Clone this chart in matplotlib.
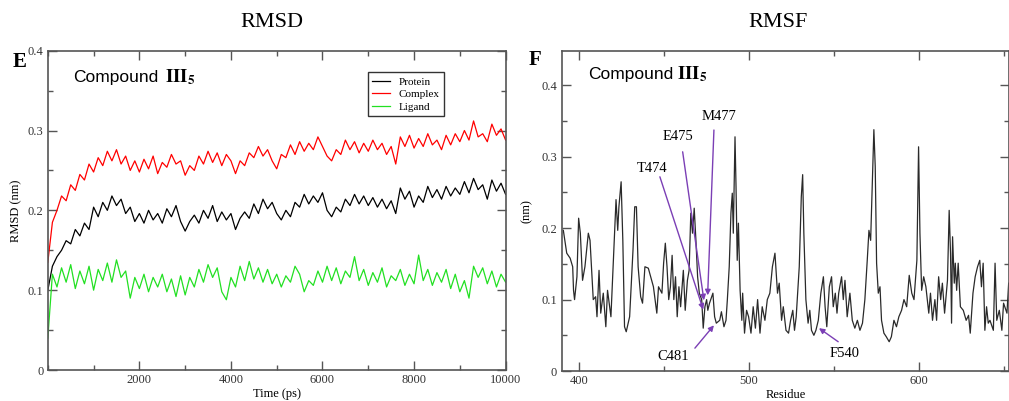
import numpy as np
import matplotlib
matplotlib.use("Agg")
import matplotlib.pyplot as plt
from matplotlib.ticker import MultipleLocator, FixedLocator

plt.rcParams["font.family"] = "Liberation Serif"
plt.rcParams["mathtext.fontset"] = "stix"

# RMSD traces, one value every 100 ps (nm)
time_ps = np.arange(0, 10001, 100)
complex_rmsd = [
    0.135, 0.185, 0.200, 0.218, 0.212, 0.232, 0.225, 0.245, 0.238, 0.258,
    0.248, 0.266, 0.256, 0.274, 0.262, 0.276, 0.258, 0.268, 0.250, 0.262,
    0.248, 0.264, 0.252, 0.268, 0.246, 0.260, 0.254, 0.270, 0.258, 0.262,
    0.244, 0.256, 0.250, 0.268, 0.258, 0.274, 0.260, 0.272, 0.256, 0.270,
    0.262, 0.246, 0.262, 0.256, 0.272, 0.266, 0.280, 0.268, 0.276, 0.262,
    0.252, 0.270, 0.266, 0.282, 0.270, 0.286, 0.274, 0.284, 0.276, 0.292,
    0.280, 0.268, 0.262, 0.276, 0.270, 0.288, 0.276, 0.286, 0.272, 0.284,
    0.274, 0.288, 0.276, 0.284, 0.270, 0.280, 0.258, 0.292, 0.280, 0.294,
    0.278, 0.290, 0.280, 0.296, 0.282, 0.288, 0.276, 0.294, 0.282, 0.296,
    0.286, 0.300, 0.288, 0.312, 0.292, 0.296, 0.286, 0.308, 0.294, 0.302,
    0.288,
]
protein_rmsd = [
    0.100, 0.130, 0.142, 0.150, 0.162, 0.158, 0.176, 0.168, 0.184, 0.176,
    0.204, 0.192, 0.210, 0.200, 0.218, 0.206, 0.214, 0.196, 0.204, 0.186,
    0.196, 0.184, 0.200, 0.188, 0.196, 0.184, 0.202, 0.192, 0.206, 0.186,
    0.174, 0.186, 0.194, 0.184, 0.200, 0.190, 0.206, 0.186, 0.198, 0.188,
    0.196, 0.176, 0.190, 0.198, 0.190, 0.208, 0.196, 0.214, 0.202, 0.210,
    0.196, 0.188, 0.200, 0.192, 0.210, 0.204, 0.220, 0.208, 0.218, 0.210,
    0.222, 0.200, 0.192, 0.204, 0.198, 0.214, 0.206, 0.220, 0.208, 0.218,
    0.206, 0.216, 0.204, 0.214, 0.202, 0.212, 0.196, 0.228, 0.214, 0.224,
    0.204, 0.218, 0.210, 0.230, 0.216, 0.226, 0.214, 0.230, 0.218, 0.228,
    0.220, 0.236, 0.222, 0.240, 0.226, 0.232, 0.214, 0.238, 0.224, 0.234,
    0.220,
]
ligand_rmsd = [
    0.040, 0.120, 0.104, 0.128, 0.110, 0.132, 0.102, 0.124, 0.108, 0.130,
    0.100, 0.126, 0.112, 0.134, 0.110, 0.138, 0.116, 0.124, 0.090, 0.116,
    0.102, 0.120, 0.098, 0.116, 0.104, 0.120, 0.098, 0.114, 0.092, 0.118,
    0.094, 0.116, 0.104, 0.126, 0.110, 0.132, 0.116, 0.128, 0.098, 0.088,
    0.116, 0.104, 0.130, 0.112, 0.136, 0.114, 0.128, 0.110, 0.126, 0.108,
    0.120, 0.104, 0.118, 0.110, 0.130, 0.120, 0.098, 0.112, 0.106, 0.124,
    0.110, 0.130, 0.112, 0.128, 0.108, 0.124, 0.116, 0.142, 0.112, 0.126,
    0.106, 0.122, 0.110, 0.128, 0.104, 0.118, 0.112, 0.126, 0.106, 0.120,
    0.108, 0.144, 0.112, 0.126, 0.106, 0.122, 0.110, 0.126, 0.102, 0.120,
    0.098, 0.112, 0.090, 0.130, 0.116, 0.128, 0.108, 0.124, 0.104, 0.120,
    0.110,
]

# RMSF per residue (nm)
residues = [
    391, 393, 395, 396.5, 397, 397.6, 399, 400,
    401, 402.3, 403.7, 405.7, 406.7, 408.6, 410, 410.8, 412, 413, 414.5, 416, 417, 419, 420.4,
    422, 423, 423.7, 425, 426, 427, 428, 430, 432, 433, 434, 435, 436.5, 437.6, 439,
    441, 443, 444, 446, 447, 449, 450, 451, 452, 453, 454, 455, 456, 457, 458, 459, 460,
    461.6, 462.7, 464, 465, 466, 467, 468, 469, 470, 471, 472.4, 473.3, 474.3, 475.3, 476, 477, 479, 480,
    481, 483, 484, 485.5, 486.7, 487.5, 488.6, 489.6, 490.4, 491, 492, 492.6, 493.3, 494, 495, 496,
    496.5, 497.6, 498.8, 500,
    501.4, 502.7, 504, 505.3, 506.7, 508, 509.6, 511, 512.5, 514, 515.5, 517, 518, 519.4, 520.4, 522,
    523.5, 524.7, 526, 527, 528, 529.8,
    531, 531.8, 532.5, 533.7, 535, 536, 537, 538.4, 539.6, 541, 542.5, 544, 545, 546, 547.5, 548.8,
    549.8, 551, 552, 553, 554.7, 555.7, 556.7, 558, 559.6,
    561, 562.5, 564, 565.5, 567, 568.4, 569.8, 570.8, 571.8, 572.7, 573.7, 574.5, 575.3, 576.3, 577.3,
    578.2, 579.6,
    581, 582.7, 584, 585.5, 587, 588.4, 590, 591.4, 593, 594.5, 596, 597.3, 599, 600, 600.8,
    601.8, 603, 604.3, 606, 607, 608.2, 609.6, 610.6, 611.8, 613, 614, 615.3, 617, 618, 618.8, 619.4,
    620, 621, 621.6, 622.4, 623.3, 624.6,
    626.3, 628, 629.4, 630.4, 632, 633.3, 634.7, 636, 637, 638, 639, 640, 641, 642, 644, 645, 646,
    647.5, 649, 650, 652, 653,
]
rmsf = [
    0.197, 0.165, 0.158, 0.146, 0.113, 0.100, 0.132, 0.214,
    0.193, 0.127, 0.146, 0.193, 0.183, 0.100, 0.104, 0.076, 0.141, 0.081, 0.109, 0.062, 0.113, 0.076, 0.151,
    0.240, 0.197, 0.230, 0.265, 0.183, 0.062, 0.055, 0.076, 0.170, 0.230, 0.230, 0.146, 0.104, 0.095, 0.146,
    0.144, 0.127, 0.118, 0.081, 0.118, 0.109, 0.151, 0.179, 0.146, 0.100, 0.118, 0.162, 0.100, 0.132, 0.076, 0.118, 0.090,
    0.141, 0.085, 0.127, 0.141, 0.221, 0.193, 0.228, 0.183, 0.132, 0.109, 0.100, 0.060, 0.090, 0.100, 0.085, 0.095, 0.109, 0.076,
    0.067, 0.071, 0.083, 0.062, 0.071, 0.100, 0.146, 0.221, 0.249, 0.193, 0.328, 0.258, 0.155, 0.207, 0.113, 0.071,
    0.109, 0.053, 0.085, 0.076,
    0.053, 0.090, 0.060, 0.100, 0.053, 0.090, 0.071, 0.100, 0.109, 0.146, 0.165, 0.109, 0.123, 0.071, 0.090, 0.057,
    0.053, 0.071, 0.085, 0.057, 0.076, 0.146,
    0.244, 0.275, 0.193, 0.100, 0.067, 0.085, 0.057, 0.050, 0.057, 0.071, 0.109, 0.132, 0.090, 0.062, 0.118, 0.132,
    0.090, 0.109, 0.081, 0.109, 0.132, 0.100, 0.127, 0.076, 0.109,
    0.071, 0.060, 0.071, 0.057, 0.067, 0.100, 0.155, 0.197, 0.183, 0.254, 0.338, 0.286, 0.151, 0.109, 0.118,
    0.071, 0.053,
    0.048, 0.041, 0.048, 0.071, 0.062, 0.076, 0.085, 0.100, 0.090, 0.134, 0.109, 0.100, 0.155, 0.314, 0.193,
    0.113, 0.132, 0.118, 0.081, 0.109, 0.071, 0.100, 0.071, 0.132, 0.100, 0.123, 0.081, 0.127, 0.225, 0.165, 0.067,
    0.188, 0.123, 0.151, 0.113, 0.151, 0.090,
    0.085, 0.071, 0.078, 0.053, 0.109, 0.132, 0.146, 0.155, 0.118, 0.151, 0.057, 0.090, 0.067, 0.071, 0.057, 0.151, 0.071,
    0.085, 0.057, 0.095, 0.081, 0.123,
]

# key residues: label, label position, arrow tail, arrow head
hot_labels = ["T474", "E475", "M477", "C481", "F540"]
hot_text_xy = [(443.1, 0.284), (458.5, 0.328), (482.5, 0.356), (455.5, 0.021), (556.6, 0.025)]
hot_tail = [(447.8, 0.272), (461.2, 0.307), (479.6, 0.3375), (468.4, 0.032), (552.7, 0.041)]
hot_head = [(473.3, 0.086), (473.7, 0.099), (475.9, 0.106), (479.6, 0.064), (541.4, 0.060)]

y_ticks = [0, 0.1, 0.2, 0.3, 0.4]
y_tick_labels = ["0", "0.1", "0.2", "0.3", "0.4"]

spine_col = "#555555"
purple = "#7b3fb5"

fig = plt.figure(figsize=(10.09, 4.01), dpi=100)
ax1 = fig.add_axes([0.0474, 0.0773, 0.4537, 0.7963])
ax2 = fig.add_axes([0.5573, 0.0748, 0.4427, 0.7988])


def style_axes(ax):
    for s in ax.spines.values():
        s.set_color(spine_col)
        s.set_linewidth(1.2)
    ax.tick_params(which="both", direction="in", top=True, right=True,
                   colors=spine_col, labelcolor="#333333", labelsize=9, pad=3)
    ax.tick_params(which="major", length=6.5, width=1.0)
    ax.tick_params(which="minor", length=3.6, width=1.0)
    ax.yaxis.set_major_locator(FixedLocator(y_ticks))
    ax.yaxis.set_minor_locator(MultipleLocator(0.05))
    ax.set_yticklabels(y_tick_labels)


# ---- RMSD panel
ax1.plot(time_ps, protein_rmsd, color="black", lw=0.9, label="Protein")
ax1.plot(time_ps, complex_rmsd, color="#ff0000", lw=0.9, label="Complex")
ax1.plot(time_ps, ligand_rmsd, color="#22e022", lw=0.9, label="Ligand")
ax1.set_xlim(0, 10000)
ax1.set_ylim(0, 0.4)
style_axes(ax1)
ax1.xaxis.set_major_locator(FixedLocator([2000, 4000, 6000, 8000, 10000]))
ax1.xaxis.set_minor_locator(MultipleLocator(1000))
ax1.set_xlabel("Time (ps)", fontsize=9, labelpad=1)
ax1.set_ylabel("RMSD (nm)", fontsize=9, labelpad=4)
leg = ax1.legend(loc="upper left", bbox_to_anchor=(0.699, 0.932), fontsize=8,
                 frameon=True, fancybox=False, edgecolor="black", handlelength=1.6,
                 handletextpad=0.8, borderpad=0.4, labelspacing=0.25, borderaxespad=0)
leg.get_frame().set_linewidth(1.0)
ax1.text(0.055, 0.902, "Compound", transform=ax1.transAxes, fontsize=12.5,
         family="Liberation Sans", va="baseline")
ax1.text(0.256, 0.902, r"$\mathbf{III}_{\mathbf{5}}$", transform=ax1.transAxes,
         fontsize=13.5, va="baseline")

# ---- RMSF panel
ax2.plot(residues, rmsf, color="#2a2a2a", lw=0.9)
ax2.set_xlim(390.4, 653.2)
ax2.set_ylim(0, 0.4486)
style_axes(ax2)
ax2.xaxis.set_major_locator(MultipleLocator(100))
ax2.xaxis.set_minor_locator(MultipleLocator(50))
ax2.tick_params(axis="y", pad=4)
ax2.set_xlabel("Residue", fontsize=9, labelpad=1)
ax2.set_ylabel("(nm)", fontsize=9, labelpad=6)
ax2.text(0.0575, 0.912, "Compound", transform=ax2.transAxes, fontsize=12.5,
         family="Liberation Sans", va="baseline")
ax2.text(0.257, 0.912, r"$\mathbf{III}_{\mathbf{5}}$", transform=ax2.transAxes,
         fontsize=13.5, va="baseline")

for lab, txy, tail, head in zip(hot_labels, hot_text_xy, hot_tail, hot_head):
    ax2.text(txy[0], txy[1], lab, fontsize=10.5, ha="center", va="center")
    ax2.annotate("", xy=head, xytext=tail,
                 arrowprops=dict(arrowstyle="-|>", color=purple, lw=1.0,
                                 mutation_scale=8, shrinkA=0, shrinkB=0))

# panel titles and letters
fig.text(0.2696, 0.943, "RMSD", fontsize=16, ha="center", va="center")
fig.text(0.771, 0.943, "RMSF", fontsize=16, ha="center", va="center")
fig.text(0.0193, 0.845, "E", fontsize=15, fontweight="bold", ha="center", va="center")
fig.text(0.530, 0.850, "F", fontsize=15, fontweight="bold", ha="center", va="center")

fig.savefig("out.png", dpi=100)
